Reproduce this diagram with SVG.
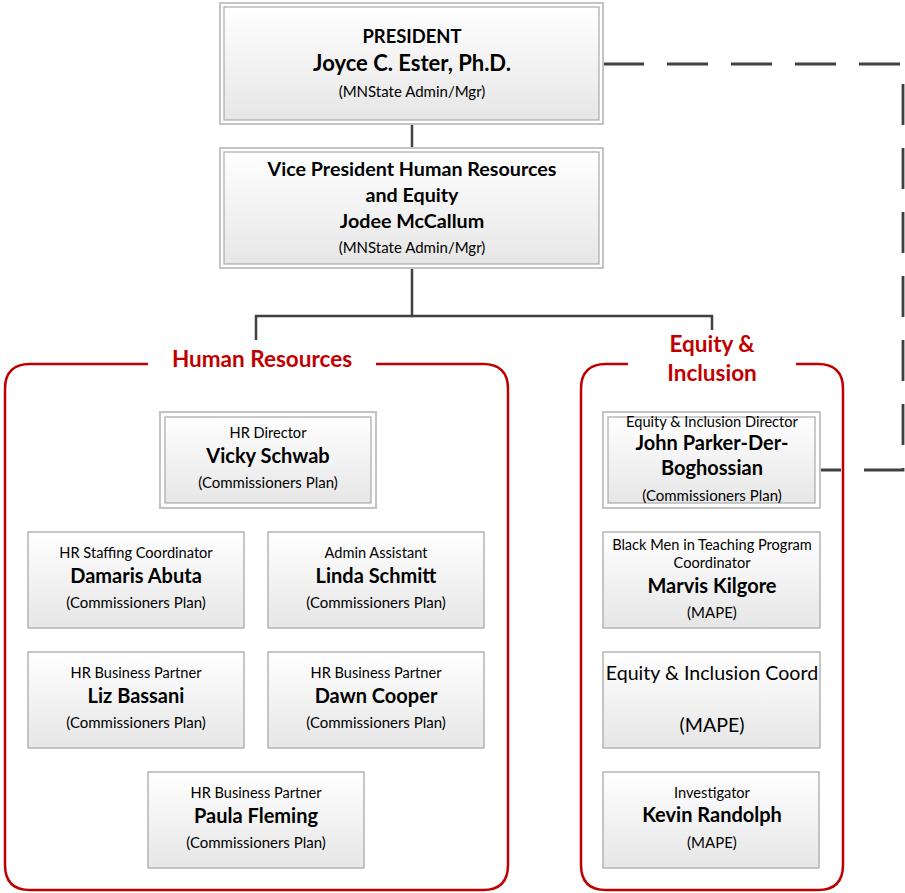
<svg xmlns="http://www.w3.org/2000/svg" width="905" height="893" viewBox="0 0 905 893">
<defs>
<linearGradient id="g" x1="0" y1="0" x2="0" y2="1">
<stop offset="0" stop-color="#ffffff"/>
<stop offset="1" stop-color="#e6e6e6"/>
</linearGradient>
<style>
text{font-family:Lato,"Open Sans","Liberation Sans",sans-serif;text-anchor:middle;fill:#000}
.b{fill:url(#g);stroke:#b4b4b4;stroke-width:1.5}
.o{fill:#fff;stroke:#c4c4c4;stroke-width:2}
.i{fill:url(#g);stroke:#a8a8a8;stroke-width:1.2}
.s{font-size:14.6px}
.n{font-size:20px;font-weight:bold}
.p{font-size:15px}
.grp{fill:none;stroke:#c00000;stroke-width:2.5}
.gt{font-size:22.5px;font-weight:bold;fill:#c00000}
.c{fill:none;stroke:#404040;stroke-width:2.5}
.d{fill:none;stroke:#404040;stroke-width:2.8;stroke-dasharray:41 23}
</style>
</defs>
<g id="connectors">
<path class="c" d="M412,124 V148"/>
<path class="c" d="M412,268 V316 H256 V340"/>
<path class="c" d="M412,316 H712 V330"/>
<path class="d" d="M603,64 H903 V470 H818"/>
</g>
<g id="group-hr">
<path class="grp" d="M148,364 H30 Q5,364 5,389 V865 Q5,890 30,890 H483 Q508,890 508,865 V389 Q508,364 483,364 H376"/>
<text class="gt" x="262" y="367">Human Resources</text>
</g>
<g id="group-ei">
<path class="grp" d="M628,364 H606 Q581,364 581,389 V865 Q581,890 606,890 H818 Q843,890 843,865 V389 Q843,364 818,364 H796"/>
<text class="gt" x="712" y="352">Equity &amp;</text>
<text class="gt" x="712" y="381">Inclusion</text>
</g>
<g id="president">
<rect class="o" x="220" y="3" width="383" height="121"/>
<rect class="i" x="224" y="7" width="375" height="113"/>
<text x="412" y="43" style="font-size:18.4px;font-weight:bold">PRESIDENT</text>
<text x="412" y="71" style="font-size:22px;font-weight:bold">Joyce C. Ester, Ph.D.</text>
<text class="p" x="412" y="97">(MNState Admin/Mgr)</text>
</g>
<g id="vp">
<rect class="o" x="220" y="148" width="383" height="120"/>
<rect class="i" x="224" y="152" width="375" height="112"/>
<text x="412" y="176" style="font-size:19.7px;font-weight:bold">Vice President Human Resources</text>
<text x="412" y="202" style="font-size:19.7px;font-weight:bold">and Equity</text>
<text x="412" y="228" style="font-size:19.7px;font-weight:bold">Jodee McCallum</text>
<text class="p" x="412" y="253">(MNState Admin/Mgr)</text>
</g>
<g id="hr-director">
<rect class="o" x="160" y="412" width="216" height="96"/>
<rect class="i" x="165" y="417" width="206" height="86"/>
<text class="s" x="268" y="438">HR Director</text>
<text class="n" x="268" y="463">Vicky Schwab</text>
<text class="p" x="268" y="488">(Commissioners Plan)</text>
</g>
<g id="damaris">
<rect class="b" x="28" y="532" width="216" height="96"/>
<text class="s" x="136" y="558">HR Staffing Coordinator</text>
<text class="n" x="136" y="583">Damaris Abuta</text>
<text class="p" x="136" y="608">(Commissioners Plan)</text>
</g>
<g id="linda">
<rect class="b" x="268" y="532" width="216" height="96"/>
<text class="s" x="376" y="558">Admin Assistant</text>
<text class="n" x="376" y="583">Linda Schmitt</text>
<text class="p" x="376" y="608">(Commissioners Plan)</text>
</g>
<g id="liz">
<rect class="b" x="28" y="652" width="216" height="96"/>
<text class="s" x="136" y="678">HR Business Partner</text>
<text class="n" x="136" y="703">Liz Bassani</text>
<text class="p" x="136" y="728">(Commissioners Plan)</text>
</g>
<g id="dawn">
<rect class="b" x="268" y="652" width="216" height="96"/>
<text class="s" x="376" y="678">HR Business Partner</text>
<text class="n" x="376" y="703">Dawn Cooper</text>
<text class="p" x="376" y="728">(Commissioners Plan)</text>
</g>
<g id="paula">
<rect class="b" x="148" y="772" width="216" height="96"/>
<text class="s" x="256" y="798">HR Business Partner</text>
<text class="n" x="256" y="823">Paula Fleming</text>
<text class="p" x="256" y="848">(Commissioners Plan)</text>
</g>
<g id="ei-director">
<rect class="o" x="603" y="412" width="217" height="96"/>
<rect class="i" x="608" y="417" width="207" height="86"/>
<text class="s" x="712" y="427">Equity &amp; Inclusion Director</text>
<text class="n" x="712" y="450">John Parker-Der-</text>
<text class="n" x="712" y="475">Boghossian</text>
<text class="p" x="712" y="501">(Commissioners Plan)</text>
</g>
<g id="marvis">
<rect class="b" x="603" y="532" width="217" height="96"/>
<text class="s" x="712" y="550">Black Men in Teaching Program</text>
<text class="s" x="712" y="568">Coordinator</text>
<text class="n" x="712" y="593">Marvis Kilgore</text>
<text class="p" x="712" y="618">(MAPE)</text>
</g>
<g id="ei-coord">
<rect class="b" x="603" y="652" width="217" height="96"/>
<text x="712" y="680" style="font-size:19.6px">Equity &amp; Inclusion Coord</text>
<text x="712" y="732" style="font-size:19.6px">(MAPE)</text>
</g>
<g id="kevin">
<rect class="b" x="603" y="772" width="216" height="96"/>
<text class="s" x="712" y="798">Investigator</text>
<text class="n" x="712" y="822">Kevin Randolph</text>
<text class="p" x="712" y="848">(MAPE)</text>
</g>
</svg>
